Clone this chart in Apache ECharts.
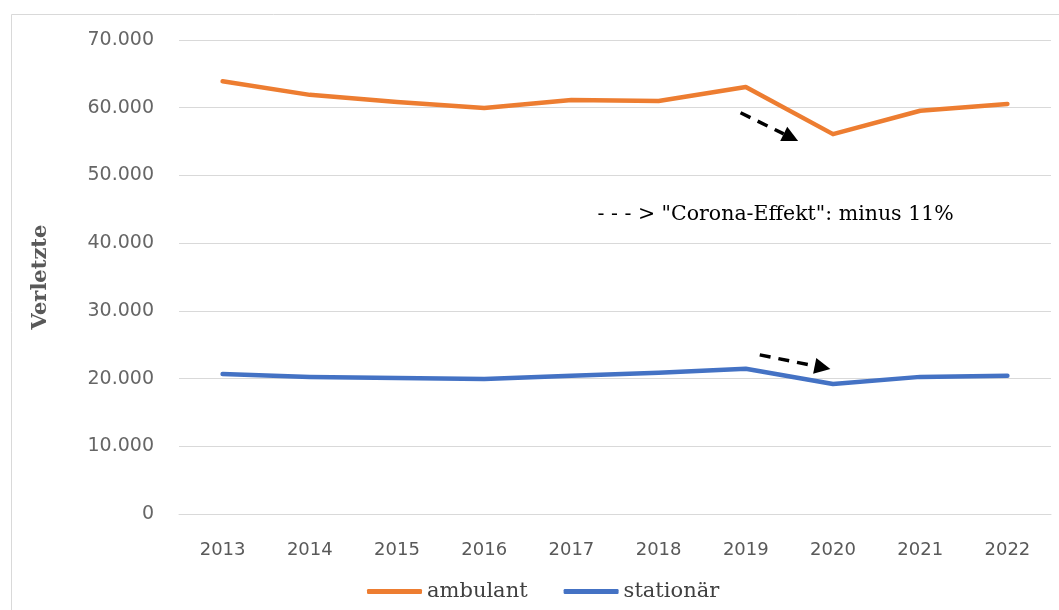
<!DOCTYPE html>
<html>
<head>
<meta charset="utf-8">
<script src="https://cdn.jsdelivr.net/npm/echarts@6/dist/echarts.min.js"></script>
<style>
html,body{margin:0;padding:0;background:#fff;}
#chart{width:1059px;height:610px;}
</style>
</head>
<body>
<div id="chart"></div>
<script>
const years = ['2013','2014','2015','2016','2017','2018','2019','2020','2021','2022'];
const ambulant = [63900, 61900, 60850, 59950, 61150, 61000, 63050, 56100, 59550, 60550];
const stationaer = [20680, 20250, 20100, 19950, 20400, 20850, 21450, 19200, 20250, 20400];
const yTicks = [0, 10000, 20000, 30000, 40000, 50000, 60000, 70000];
const seriesNames = ['ambulant', 'stationär'];
const annotationText = '- - - > "Corona-Effekt": minus 11%';
const axisName = 'Verletzte';

const chart = echarts.init(document.getElementById('chart'), null, {renderer: 'canvas'});
const fmt = v => v === 0 ? '0' : (v / 1000).toFixed(0) + '.000';

chart.setOption({
  animation: false,
  backgroundColor: '#fff',
  grid: {left: 179, right: 8, top: 40, bottom: 96, containLabel: false},
  legend: {
    bottom: 3,
    left: 362,
    icon: 'roundRect',
    itemWidth: 55,
    itemHeight: 5,
    itemGap: 36,
    textStyle: {fontFamily: 'DejaVu Serif', fontSize: 21, color: '#404040'},
    data: seriesNames
  },
  xAxis: {
    type: 'category',
    data: years,
    boundaryGap: true,
    axisLine: {show: true, lineStyle: {color: '#d9d9d9', width: 1}},
    axisTick: {show: false},
    axisLabel: {fontFamily: 'DejaVu Sans', fontSize: 18, color: '#595959', margin: 27}
  },
  yAxis: {
    type: 'value',
    min: yTicks[0],
    max: yTicks[yTicks.length - 1],
    interval: 10000,
    name: axisName,
    nameLocation: 'middle',
    nameGap: 128,
    nameRotate: 90,
    nameTextStyle: {fontFamily: 'DejaVu Serif', fontSize: 21, color: '#595959', fontWeight: 'bold'},
    axisLine: {show: false},
    axisTick: {show: false},
    splitLine: {lineStyle: {color: '#d9d9d9', width: 1}},
    axisLabel: {fontFamily: 'DejaVu Sans', fontSize: 19, color: '#666666', margin: 25, formatter: fmt}
  },
  series: [
    {name: seriesNames[0], type: 'line', data: ambulant, symbol: 'none', lineStyle: {color: '#ED7D31', width: 4.5, cap: 'round', join: 'round'}, itemStyle: {color: '#ED7D31'}},
    {name: seriesNames[1], type: 'line', data: stationaer, symbol: 'none', lineStyle: {color: '#4472C4', width: 4.5, cap: 'round', join: 'round'}, itemStyle: {color: '#4472C4'}}
  ]
});

// annotation arrows anchored to the data scale
function px(catIdx, frac, val) {
  const p = chart.convertToPixel({gridIndex: 0}, [catIdx, val]);
  const w = chart.convertToPixel({gridIndex: 0}, [1, 0])[0] - chart.convertToPixel({gridIndex: 0}, [0, 0])[0];
  return [p[0] + frac * w, p[1]];
}
function arrow(a, b) {
  const dx = b[0] - a[0], dy = b[1] - a[1];
  const len = Math.sqrt(dx * dx + dy * dy);
  const ux = dx / len, uy = dy / len;
  const head = 16, hw = 8;
  const base = [b[0] - ux * head, b[1] - uy * head];
  return [
    {type: 'line', shape: {x1: a[0], y1: a[1], x2: base[0], y2: base[1]}, style: {stroke: '#000', lineWidth: 3.5, lineDash: [11, 8]}, z: 10},
    {type: 'polygon', shape: {points: [b, [base[0] - uy * hw, base[1] + ux * hw], [base[0] + uy * hw, base[1] - ux * hw]]}, style: {fill: '#000'}, z: 10}
  ];
}
const a1 = arrow(px(6, -0.06, 59250), px(6, 0.6, 55100));
const a2 = arrow(px(6, 0.16, 23500), px(6, 0.97, 21400));
const tp = px(6, -1.7, 44150);

chart.setOption({
  graphic: [
    {type: 'rect', shape: {x: 11.5, y: 14.5, width: 1100, height: 700}, style: {fill: 'none', stroke: '#d9d9d9', lineWidth: 1}, z: -1, silent: true},
    ...a1, ...a2,
    {type: 'text', x: tp[0], y: tp[1], style: {text: annotationText, fontFamily: 'DejaVu Serif', fontSize: 20.5, fill: '#000', textVerticalAlign: 'middle'}, z: 10}
  ]
});
</script>
</body>
</html>
